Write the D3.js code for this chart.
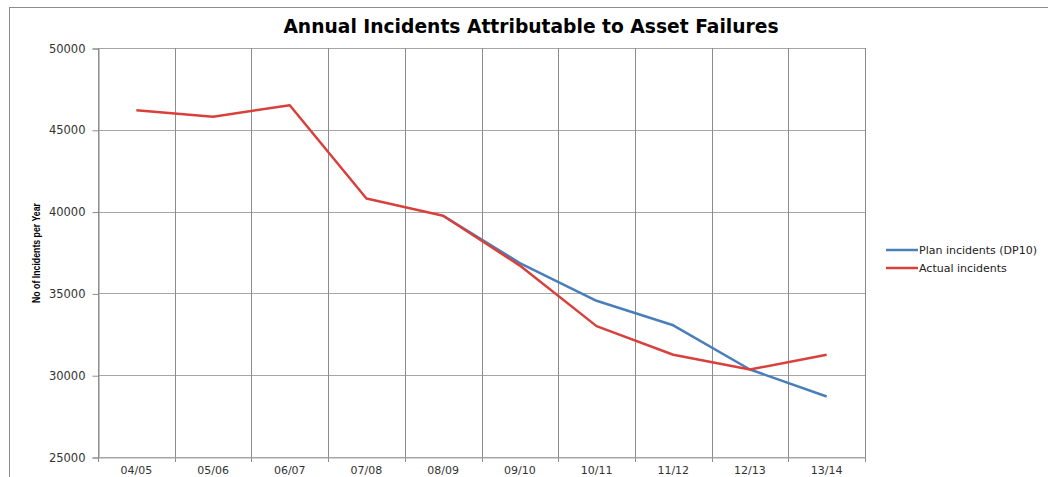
<!DOCTYPE html>
<html>
<head>
<meta charset="utf-8">
<script src="https://cdn.jsdelivr.net/npm/d3@7"></script>
<style>
  html, body { margin: 0; padding: 0; background: #fff; }
  svg { display: block; }
</style>
</head>
<body>
<svg id="chart" width="1048" height="477"></svg>
<script>
const categories = ["04/05","05/06","06/07","07/08","08/09","09/10","10/11","11/12","12/13","13/14"];
const planValues = [null, null, null, null, 39750, 36850, 34550, 33050, 30350, 28700];
const actualValues = [46200, 45800, 46500, 40800, 39750, 36700, 33000, 31250, 30350, 31250];
const yTicks = [25000, 30000, 35000, 40000, 45000, 50000];
const seriesNames = ["Plan incidents (DP10)", "Actual incidents"];
const seriesColors = ["#4a7ebb", "#d9403b"];
const titleText = "Annual Incidents Attributable to Asset Failures";
const yLabelText = "No of Incidents per Year";

const svg = d3.select("#chart");
const W = 1048, H = 477;
const plot = { left: 98, top: 48, right: 865, bottom: 457 };

// outer chart border
svg.append("rect")
  .attr("x", 9.5).attr("y", 7.5)
  .attr("width", W + 10).attr("height", H + 10)
  .attr("fill", "#fff").attr("stroke", "#8c8c8c").attr("stroke-width", 1);

const x = d3.scaleBand().domain(categories).range([plot.left, plot.right]).padding(0);
const y = d3.scaleLinear().domain([25000, 50000]).range([plot.bottom, plot.top]);

// horizontal gridlines
svg.append("g")
  .selectAll("line").data(yTicks).join("line")
  .attr("x1", plot.left).attr("x2", plot.right)
  .attr("y1", d => Math.round(y(d)) + 0.5).attr("y2", d => Math.round(y(d)) + 0.5)
  .attr("stroke", "#a6a6a6").attr("stroke-width", 1);

// vertical gridlines at category boundaries
const bounds = categories.map(c => x(c)).concat([plot.right]);
svg.append("g")
  .selectAll("line").data(bounds).join("line")
  .attr("x1", d => Math.round(d) + 0.5).attr("x2", d => Math.round(d) + 0.5)
  .attr("y1", plot.top).attr("y2", plot.bottom + 5)
  .attr("stroke", "#8c8c8c").attr("stroke-width", 1);

// y axis ticks & labels
const yAxis = d3.axisLeft(y).tickValues(yTicks).tickSize(6).tickPadding(7).tickFormat(d3.format("d"));
const gy = svg.append("g").attr("transform", `translate(${plot.left + 0.5},0.5)`).call(yAxis);
gy.select(".domain").attr("stroke", "#8c8c8c");
gy.selectAll(".tick line").attr("stroke", "#8c8c8c");
gy.selectAll(".tick text")
  .attr("font-family", "DejaVu Sans, Verdana, sans-serif")
  .attr("font-size", 11.5).attr("fill", "#333");

// x axis labels
const xAxis = d3.axisBottom(x).tickSize(0).tickPadding(9);
const gx = svg.append("g").attr("transform", `translate(0,${plot.bottom + 0.5})`).call(xAxis);
gx.select(".domain").attr("stroke", "#a6a6a6");
gx.selectAll(".tick text")
  .attr("font-family", "DejaVu Sans, Verdana, sans-serif")
  .attr("font-size", 11).attr("fill", "#333");

// lines
const line = d3.line()
  .defined(d => d.v !== null)
  .x(d => x(d.c) + x.bandwidth() / 2)
  .y(d => y(d.v));

[planValues, actualValues].forEach((vals, i) => {
  svg.append("path")
    .datum(categories.map((c, j) => ({ c, v: vals[j] })))
    .attr("d", line)
    .attr("fill", "none")
    .attr("stroke", seriesColors[i])
    .attr("stroke-width", 2.5)
    .attr("stroke-linejoin", "round");
});

// title
svg.append("text")
  .attr("x", 531).attr("y", 33)
  .attr("text-anchor", "middle")
  .attr("font-family", "DejaVu Sans, Verdana, sans-serif")
  .attr("font-weight", "bold")
  .attr("font-size", 18.7)
  .attr("fill", "#000")
  .text(titleText);

// y label
svg.append("text")
  .attr("transform", "translate(40,253) rotate(-90)")
  .attr("text-anchor", "middle")
  .attr("font-family", "Liberation Sans Narrow, Liberation Sans, Arial, sans-serif")
  .attr("font-weight", "bold")
  .attr("font-size", 10)
  .attr("textLength", 100)
  .attr("lengthAdjust", "spacingAndGlyphs")
  .attr("fill", "#000")
  .text(yLabelText);

// legend
const legend = svg.append("g");
seriesNames.forEach((name, i) => {
  const ly = 250 + i * 18;
  legend.append("line")
    .attr("x1", 886).attr("x2", 918)
    .attr("y1", ly).attr("y2", ly)
    .attr("stroke", seriesColors[i]).attr("stroke-width", 2.5);
  legend.append("text")
    .attr("x", 919).attr("y", ly + 4)
    .attr("font-family", "DejaVu Sans, Verdana, sans-serif")
    .attr("font-size", 11)
    .attr("fill", "#222")
    .text(name);
});
</script>
</body>
</html>
